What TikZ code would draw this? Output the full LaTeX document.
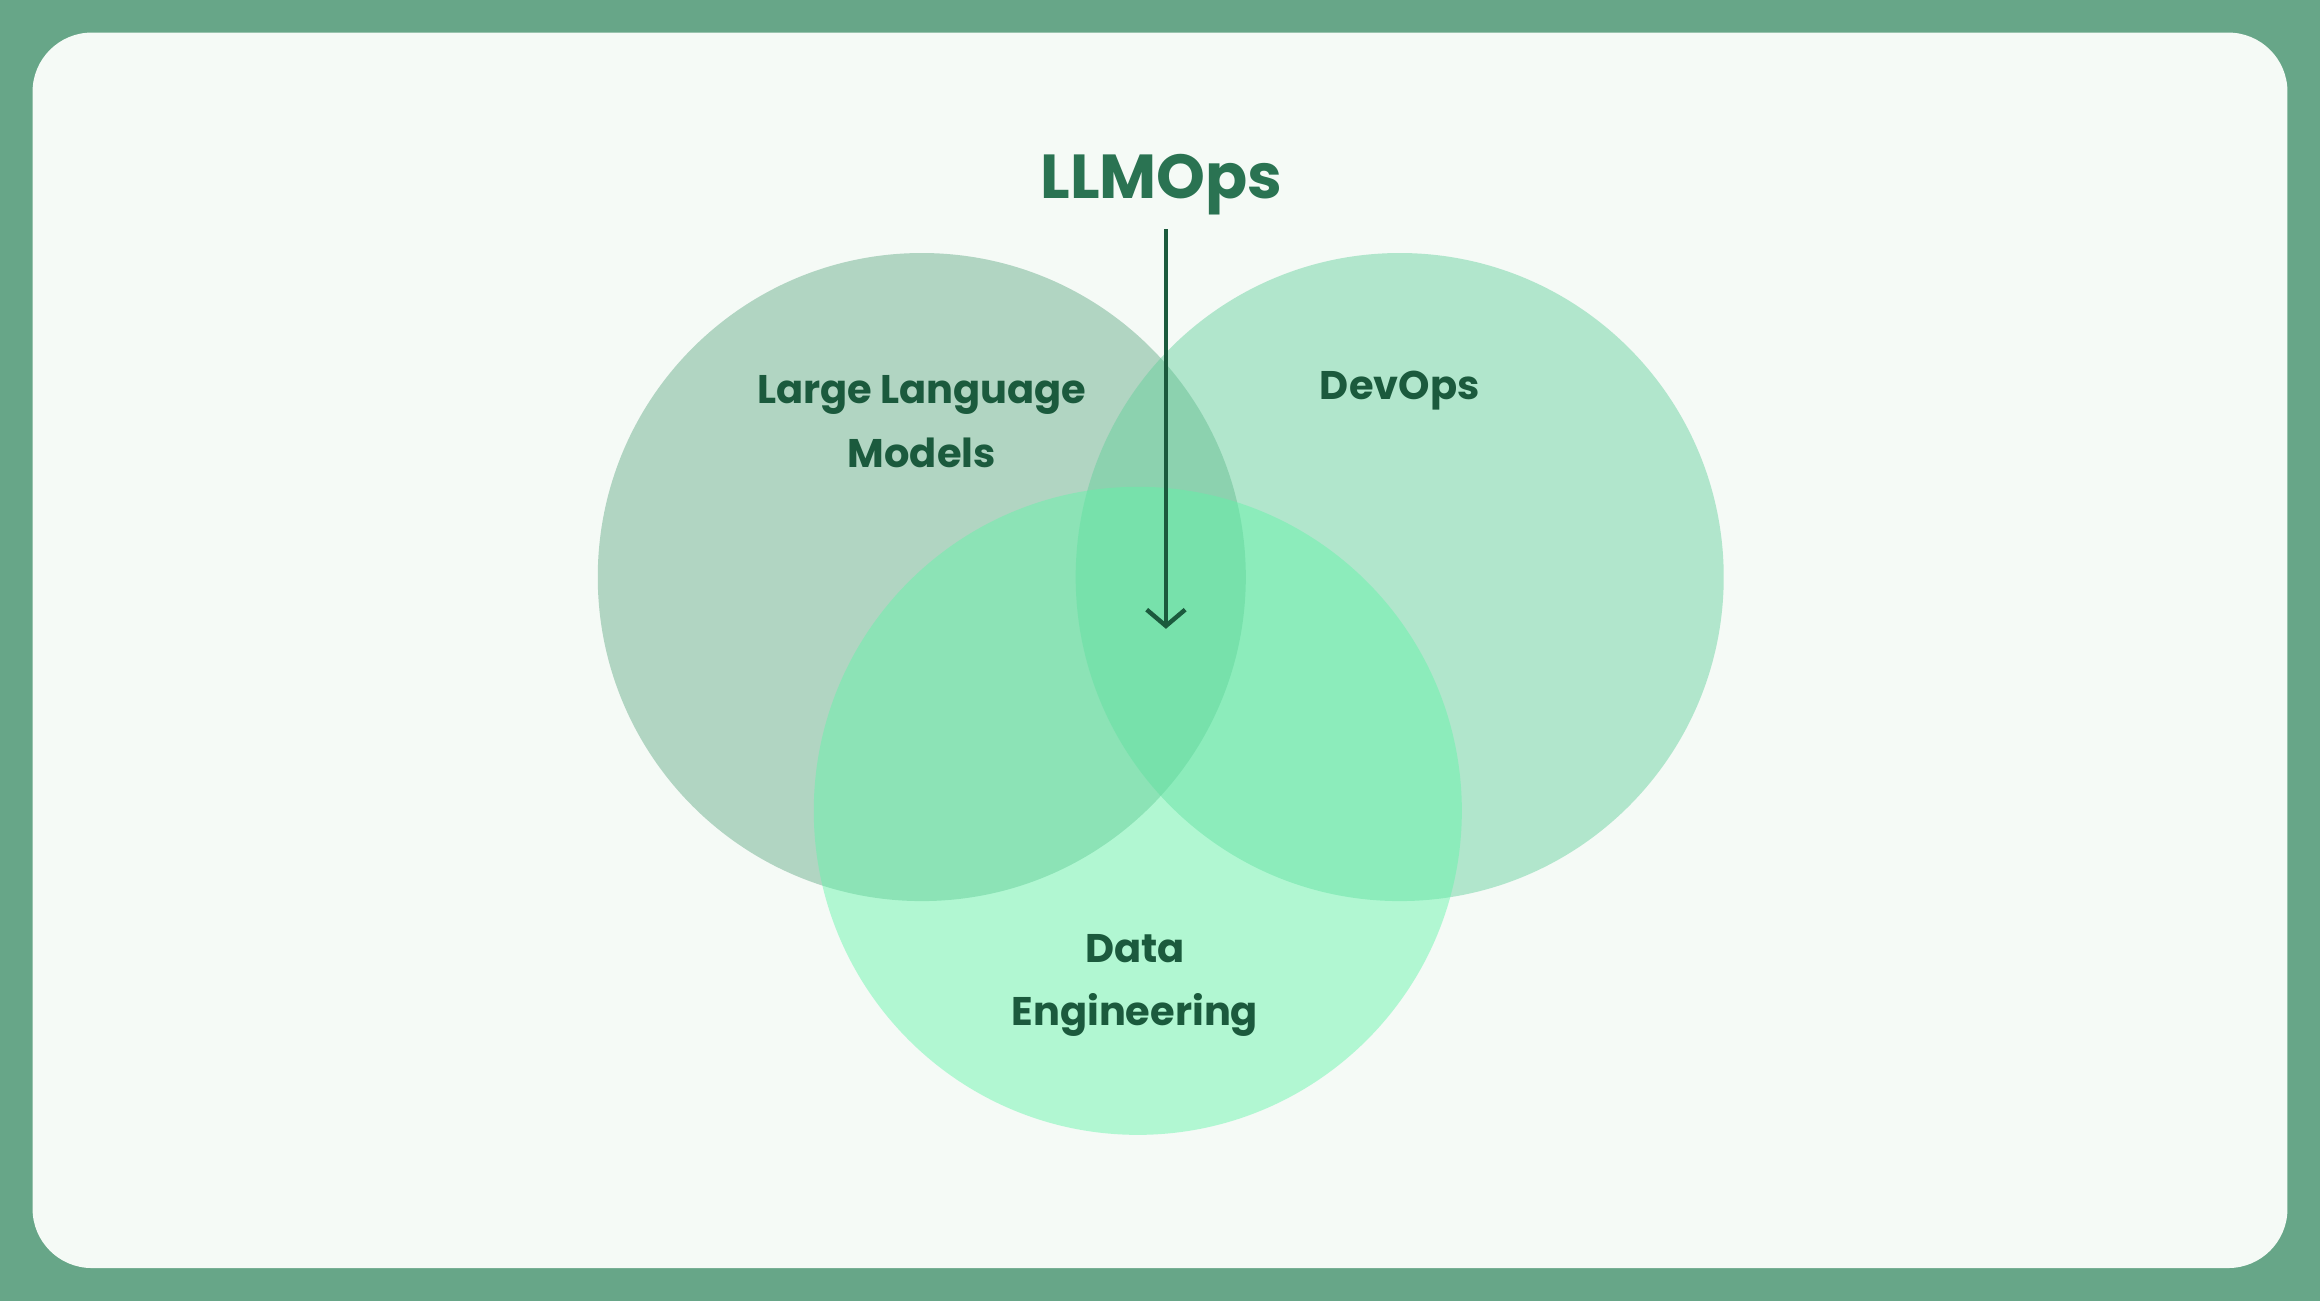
\documentclass[tikz,border=0pt]{standalone}
\usepackage{fontspec}
\setmainfont{Poppins}
\usetikzlibrary{arrows.meta}
\definecolor{frame}{HTML}{67A688}
\definecolor{paper}{HTML}{F5FAF6}
\definecolor{txt}{HTML}{1B5A3D}
\definecolor{title}{HTML}{2A7352}
\definecolor{cA}{HTML}{5FA883}
\definecolor{cB}{HTML}{5FCF9A}
\definecolor{cC}{HTML}{5FF5A8}
\tikzset{
  venn/.style={circle, minimum size=438pt, inner sep=0pt, fill opacity=0.45},
  lbl/.style={font=\bfseries\fontsize{27}{43}\selectfont, text=txt, align=center},
}
\begin{document}
\begin{tikzpicture}[x=1pt,y=-1pt]
\useasboundingbox (0,0) rectangle (1568,879);
\fill[frame] (0,0) rectangle (1568,879);
\fill[paper, rounded corners=40pt] (22,22) rectangle (1546,857);
\node[venn, fill=cA] (llm) at (623,390) {};
\node[venn, fill=cB] (dev) at (946,390) {};
\node[venn, fill=cC] (data) at (769,548) {};
\node[lbl] (tl) at (623,285) {Large Language\\Models};
\node[lbl] (td) at (946,264) {DevOps};
\node[lbl] (tde) at (767,666) {Data\\Engineering};
\node[font=\bfseries\fontsize{42}{50}\selectfont, text=title] (ops) at (785,125) {LLMOps};
\coordinate (tip) at (788,425);
\draw[txt, line width=3pt, -{Straight Barb[length=11pt,width=26pt,line width=3pt]}] (788,155) -- (tip);
\end{tikzpicture}
\end{document}
